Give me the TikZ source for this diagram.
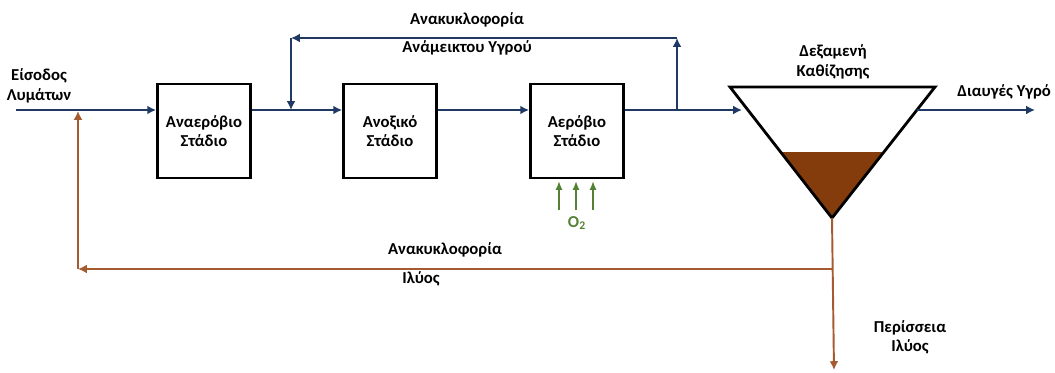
\documentclass[tikz,border=0pt]{standalone}
\usepackage{fontspec}
\setmainfont{Carlito}
\usetikzlibrary{arrows.meta}
\definecolor{navy}{RGB}{31,56,100}
\definecolor{sludgeline}{RGB}{166,90,48}
\definecolor{sludgefill}{RGB}{132,60,12}
\definecolor{oxgreen}{RGB}{84,130,53}

\begin{document}
\begin{tikzpicture}[x=0.02cm, y=-0.02cm,
    font=\fontsize{9.5}{11}\selectfont\bfseries,
    stage/.style={draw, line width=1.6pt, minimum width=1.86cm, minimum height=1.88cm, align=center},
    flow/.style={navy, line width=1.1pt, -{Latex[length=5pt,width=5pt]}},
    sludge/.style={sludgeline, line width=1.1pt, -{Latex[length=5pt,width=5pt]}},
    oxy/.style={oxgreen, line width=1.1pt, -{Latex[length=5pt,width=4pt]}},
    lbl/.style={align=center, inner sep=1pt}]
  \useasboundingbox (0,0) rectangle (1055,372);
  % Stages
  \node[stage] (anaer) at (204,131) {Αναερόβιο\\Στάδιο};
  \node[stage] (anox) at (390,131) {Ανοξικό\\Στάδιο};
  \node[stage] (aer) at (577,131) {Αερόβιο\\Στάδιο};
  % Points on the lines
  \coordinate (in) at (16,110);
  \coordinate (mix) at (291,110);
  \coordinate (split) at (677,110);
  \coordinate (topR) at (677,38);
  \coordinate (topL) at (291,38);
  \coordinate (tankin) at (742,110);
  \coordinate (clearout) at (917,110);
  \coordinate (clearend) at (1035,110);
  % Settling tank
  \coordinate (tl) at (730,87);
  \coordinate (tr) at (935,87);
  \coordinate (apex) at (832,218);
  \coordinate (sl) at (780,152);
  \coordinate (sr) at (884,152);
  \fill[sludgefill] (sl) -- (sr) -- (apex) -- cycle;
  \draw[line width=1.6pt, line join=miter] (tl) -- (tr) -- (apex) -- cycle;
  % Main flow
  \draw[flow] (in) -- (in -| anaer.west);
  \draw[flow] (anaer.east |- in) -- (in -| anox.west);
  \draw[flow] (anox.east |- in) -- (in -| aer.west);
  \draw[flow] (aer.east |- in) -- (tankin);
  \draw[flow] (clearout) -- (clearend);
  % Mixed liquor recycle
  \draw[flow] (split) -- (topR);
  \draw[flow] (topR) -- (topL);
  \draw[flow] (topL) -- (mix);
  % Sludge lines
  \coordinate (sbot) at (834,370);
  \coordinate (sret) at (833,269);
  \coordinate (scorner) at (78,269);
  \coordinate (sin) at (78,111);
  \draw[sludge] (apex) -- (sbot);
  \draw[sludge] (sret) -- (scorner);
  \draw[sludge] (scorner) -- (sin);
  % Oxygen
  \foreach \x in {559,576,593}
    \draw[oxy] (\x,210) -- (\x,181);
  \node[oxgreen] (o2) at (577,223) {O\textsubscript{2}};
  % Labels
  \node[lbl] (influent) at (39,86) {Είσοδος\\Λυμάτων};
  \node[lbl] (recmix1) at (467,20) {Ανακυκλοφορία};
  \node[lbl] (recmix2) at (467,48) {Ανάμεικτου Υγρού};
  \node[lbl] (tanklbl) at (833,62) {Δεξαμενή\\Καθίζησης};
  \node[lbl, anchor=east] (clear) at (1053,92) {Διαυγές Υγρό};
  \node[lbl] (recsl1) at (445,250) {Ανακυκλοφορία};
  \node[lbl] (recsl2) at (421,279) {Ιλύος};
  \node[lbl] (waste) at (910,337) {Περίσσεια\\Ιλύος};
\end{tikzpicture}
\end{document}
